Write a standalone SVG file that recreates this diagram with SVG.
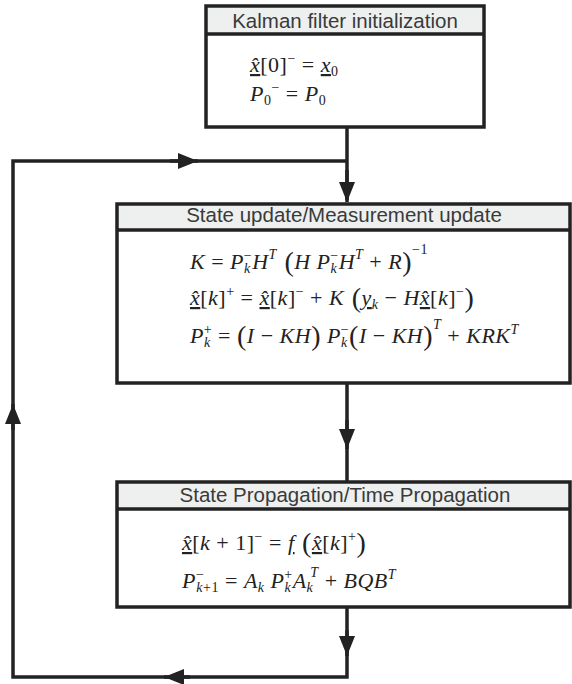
<svg xmlns="http://www.w3.org/2000/svg" width="572" height="684" viewBox="0 0 572 684">
<style>
.box{fill:#fff;stroke:#222;stroke-width:3.5}
.hdr{fill:#eef0ef;stroke:none}
.div{stroke:#222;stroke-width:3.5}
.ht{font-family:"Liberation Sans",Arial,sans-serif;font-size:20.5px;fill:#3a3a3a;text-anchor:middle}
.eq{font-family:"Liberation Serif","Times New Roman",serif;font-style:italic;font-size:22px;fill:#222;white-space:pre;letter-spacing:0.5px}
.r{font-style:normal}
.s{font-size:14px}
.u{text-decoration:underline}
.p{font-size:28px;font-style:normal}
.ln{fill:none;stroke:#222;stroke-width:3.5}
</style>
<defs>
<marker id="ah" markerUnits="userSpaceOnUse" markerWidth="20" markerHeight="16" viewBox="0 0 20 16" refX="20" refY="8" orient="auto">
<path d="M0,0 L20,8 L0,16 Z" fill="#222"/>
</marker>
</defs>

<g id="connectors">
<path class="ln" d="M347,127 V200"/>
<path class="ln" d="M347,161 H13 V677 H347 V607"/>
<path class="ln" d="M347,383 V482"/>
<path class="ln" d="M170,161 H198" marker-end="url(#ah)"/>
<path class="ln" d="M13,430 V404" marker-end="url(#ah)"/>
<path class="ln" d="M190,677 H164" marker-end="url(#ah)"/>
<path class="ln" d="M347,420 V449" marker-end="url(#ah)"/>
<path class="ln" d="M347,630 V656" marker-end="url(#ah)"/>
<path class="ln" d="M347,170 V202" marker-end="url(#ah)"/>
</g>

<g id="init">
<rect class="box" x="206" y="6" width="278" height="121"/>
<rect class="hdr" x="208" y="8" width="274" height="25"/>
<line class="div" x1="206" y1="34" x2="484" y2="34"/>
<text class="ht" x="345" y="28">Kalman filter initialization</text>
<text class="eq" x="250" y="72"><tspan class="u">x&#x302;</tspan><tspan class="r">[0]</tspan><tspan class="s r" y="63">−</tspan><tspan class="r" y="72"> = </tspan><tspan class="u">x</tspan><tspan class="s r" y="76">0</tspan></text>
<text class="eq" x="250" y="101">P<tspan class="s r" y="105">0</tspan><tspan class="s r" y="92">−</tspan><tspan class="r" y="101"> = </tspan>P<tspan class="s r" y="105">0</tspan></text>
</g>

<g id="measurement">
<rect class="box" x="117" y="204" width="453" height="179"/>
<rect class="hdr" x="119" y="206" width="449" height="23"/>
<line class="div" x1="117" y1="230" x2="570" y2="230"/>
<text class="ht" x="344" y="222">State update/Measurement update</text>
<text class="eq" x="190" y="269">K<tspan class="r"> = </tspan>P<tspan class="s" y="273">k</tspan><tspan class="s r" dx="-7" y="260">−</tspan><tspan y="269">H</tspan><tspan class="s" y="259">T</tspan><tspan class="p" y="271"> (</tspan><tspan y="269">H P</tspan><tspan class="s" y="273">k</tspan><tspan class="s r" dx="-7" y="260">−</tspan><tspan y="269">H</tspan><tspan class="s" y="259">T</tspan><tspan class="r" y="269"> + </tspan><tspan y="269">R</tspan><tspan class="p" y="271">)</tspan><tspan class="s r" y="254">−1</tspan></text>
<text class="eq" x="190" y="305"><tspan class="u">x&#x302;</tspan><tspan class="r">[</tspan>k<tspan class="r">]</tspan><tspan class="s r" y="296">+</tspan><tspan class="r" y="305"> = </tspan><tspan class="u">x&#x302;</tspan><tspan class="r">[</tspan>k<tspan class="r">]</tspan><tspan class="s r" y="296">−</tspan><tspan class="r" y="305"> + </tspan>K<tspan class="p" y="307"> (</tspan><tspan class="u" y="305">y</tspan><tspan class="s" y="309">k</tspan><tspan class="r" y="305"> − </tspan>H<tspan class="u">x&#x302;</tspan><tspan class="r">[</tspan>k<tspan class="r">]</tspan><tspan class="s r" y="296">−</tspan><tspan class="p" y="307">)</tspan></text>
<text class="eq" x="190" y="343">P<tspan class="s" y="347">k</tspan><tspan class="s r" dx="-7" y="334">+</tspan><tspan class="r" y="343"> = </tspan><tspan class="p" y="345">(</tspan><tspan y="343">I</tspan><tspan class="r"> − </tspan>KH<tspan class="p" y="345">)</tspan><tspan y="343"> P</tspan><tspan class="s" y="347">k</tspan><tspan class="s r" dx="-7" y="334">−</tspan><tspan class="p" y="345">(</tspan><tspan y="343">I</tspan><tspan class="r"> − </tspan>KH<tspan class="p" y="345">)</tspan><tspan class="s" y="329">T</tspan><tspan class="r" y="343"> + </tspan>KRK<tspan class="s" y="334">T</tspan></text>
</g>

<g id="propagation">
<rect class="box" x="117" y="482" width="453" height="125"/>
<rect class="hdr" x="119" y="484" width="449" height="24"/>
<line class="div" x1="117" y1="509" x2="570" y2="509"/>
<text class="ht" x="345" y="502">State Propagation/Time Propagation</text>
<text class="eq" x="182" y="550"><tspan class="u">x&#x302;</tspan><tspan class="r">[</tspan>k<tspan class="r"> + 1]</tspan><tspan class="s r" y="541">−</tspan><tspan class="r" y="550"> = </tspan><tspan class="u">f</tspan><tspan class="p" y="552"> (</tspan><tspan class="u" y="550">x&#x302;</tspan><tspan class="r">[</tspan>k<tspan class="r">]</tspan><tspan class="s r" y="541">+</tspan><tspan class="p" y="552">)</tspan></text>
<text class="eq" x="182" y="588">P<tspan class="s r" y="579">−</tspan><tspan class="s" dx="-8" y="592">k</tspan><tspan class="s r">+1</tspan><tspan class="r" y="588"> = </tspan>A<tspan class="s" y="592">k</tspan><tspan y="588"> P</tspan><tspan class="s" y="592">k</tspan><tspan class="s r" dx="-7" y="579">+</tspan><tspan y="588">A</tspan><tspan class="s" y="592">k</tspan><tspan class="s" dx="-3" y="577">T</tspan><tspan class="r" y="588"> + </tspan>BQB<tspan class="s" y="579">T</tspan></text>
</g>
</svg>
